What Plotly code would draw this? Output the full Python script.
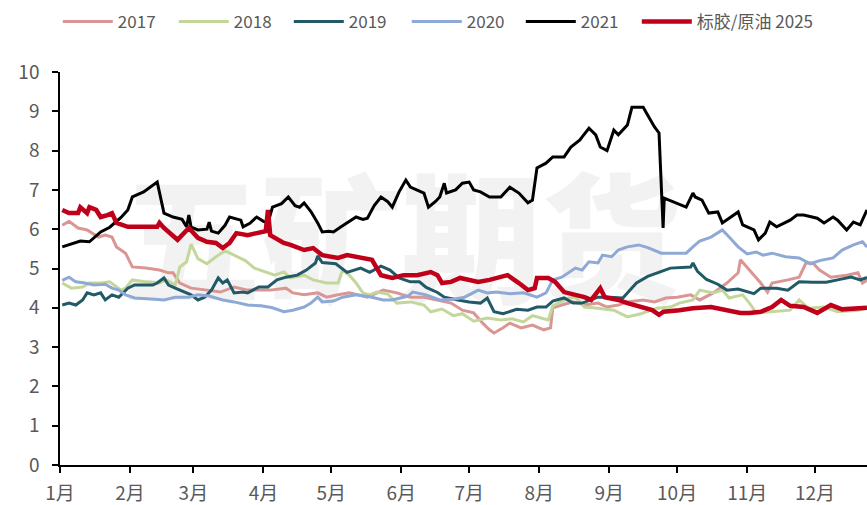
import plotly.graph_objects as go

# ---------------- data (day of year, value) ----------------
month_start_days = [0, 31, 59, 90, 120, 151, 181, 212, 243, 273, 304, 334]
month_labels = ["1月", "2月", "3月", "4月", "5月", "6月", "7月", "8月", "9月", "10月", "11月", "12月"]

d2017 = [1, 4, 8, 12, 17, 20, 23, 25, 29, 32, 38, 44, 48, 50, 53, 58, 65, 71, 77, 83, 93, 100, 103, 108, 114,
         118, 123, 128, 136, 143, 149, 155, 161, 167, 173, 178, 183, 187, 190, 192, 196, 199, 204, 209, 214, 217,
         218, 222, 227, 232, 238, 242, 247, 251, 258, 263, 268, 273, 279, 283, 289, 295, 300, 301, 303, 305, 310,
         313, 315, 322, 327, 330, 333, 336, 341, 348, 353, 355, 357]
v2017 = [6.10, 6.20, 6.03, 5.98, 5.80, 5.85, 5.80, 5.55, 5.39, 5.04, 5.01, 4.96, 4.89, 4.89, 4.63, 4.50, 4.45,
         4.40, 4.53, 4.45, 4.45, 4.50, 4.38, 4.33, 4.38, 4.27, 4.33, 4.38, 4.27, 4.45, 4.38, 4.27, 4.27, 4.20,
         4.12, 3.94, 3.87, 3.61, 3.44, 3.36, 3.49, 3.61, 3.49, 3.56, 3.44, 3.49, 4.00, 4.07, 4.15, 4.07, 4.12,
         4.02, 4.07, 4.15, 4.20, 4.15, 4.25, 4.27, 4.33, 4.20, 4.38, 4.63, 4.89, 5.22, 5.09, 4.96, 4.63, 4.40,
         4.63, 4.71, 4.78, 5.14, 5.14, 4.96, 4.78, 4.83, 4.89, 4.63, 4.70]

d2018 = [1, 5, 10, 13, 18, 22, 27, 29, 32, 38, 44, 47, 51, 53, 56, 58, 61, 65, 69, 73, 77, 82, 86, 91, 95, 99,
         102, 108, 112, 118, 123, 125, 128, 131, 134, 137, 140, 145, 149, 155, 161, 164, 169, 174, 178, 183, 189,
         195, 200, 205, 209, 214, 216, 218, 225, 228, 232, 238, 245, 251, 257, 264, 270, 274, 280, 283, 289, 293,
         296, 302, 305, 308, 314, 323, 327, 331, 338, 344, 353, 357]
v2018 = [4.63, 4.50, 4.53, 4.63, 4.63, 4.66, 4.45, 4.50, 4.71, 4.66, 4.63, 4.71, 4.58, 5.04, 5.17, 5.62, 5.25,
         5.12, 5.30, 5.45, 5.34, 5.20, 5.01, 4.91, 4.83, 4.91, 4.76, 4.83, 4.71, 4.63, 4.63, 4.96, 4.83, 4.63,
         4.38, 4.33, 4.40, 4.35, 4.12, 4.15, 4.07, 3.90, 3.97, 3.80, 3.85, 3.66, 3.74, 3.69, 3.72, 3.64, 3.80,
         3.72, 3.69, 4.05, 4.25, 4.27, 4.02, 3.99, 3.94, 3.77, 3.85, 3.99, 4.02, 4.12, 4.20, 4.45, 4.38, 4.45,
         4.25, 4.33, 4.12, 3.87, 3.90, 3.94, 4.20, 3.99, 4.02, 3.90, 3.94, 3.99]

d2019 = [1, 4, 7, 10, 12, 15, 18, 20, 23, 26, 30, 33, 41, 43, 46, 48, 51, 55, 58, 61, 64, 67, 70, 72, 74, 77,
         81, 83, 88, 92, 96, 100, 105, 109, 113, 114, 116, 122, 124, 127, 133, 137, 142, 146, 150, 155, 159, 162,
         167, 170, 176, 181, 186, 189, 192, 196, 202, 207, 211, 215, 218, 223, 227, 231, 238, 243, 249, 252, 255,
         260, 265, 270, 279, 280, 282, 286, 291, 295, 300, 307, 310, 317, 322, 327, 333, 339, 344, 350, 354, 357]
v2019 = [4.07, 4.12, 4.07, 4.20, 4.38, 4.33, 4.38, 4.20, 4.33, 4.27, 4.50, 4.58, 4.58, 4.63, 4.76, 4.58, 4.50,
         4.40, 4.33, 4.20, 4.27, 4.45, 4.76, 4.63, 4.71, 4.38, 4.40, 4.38, 4.53, 4.53, 4.71, 4.78, 4.83, 4.96,
         5.14, 5.32, 5.15, 5.12, 5.04, 4.90, 5.01, 4.90, 5.06, 4.96, 4.76, 4.66, 4.66, 4.52, 4.39, 4.27, 4.20,
         4.15, 4.12, 4.25, 3.90, 3.85, 3.96, 3.94, 4.02, 4.02, 4.17, 4.25, 4.12, 4.12, 4.27, 4.27, 4.25, 4.45,
         4.63, 4.80, 4.91, 5.01, 5.04, 5.14, 4.93, 4.72, 4.60, 4.45, 4.48, 4.36, 4.50, 4.50, 4.45, 4.66, 4.65,
         4.65, 4.71, 4.78, 4.71, 4.77]

d2020 = [1, 4, 7, 11, 15, 20, 23, 26, 29, 33, 42, 46, 51, 57, 61, 66, 72, 77, 83, 89, 94, 99, 103, 108, 111, 114,
         116, 121, 125, 131, 137, 143, 147, 154, 156, 162, 168, 174, 179, 185, 189, 193, 199, 205, 211, 215, 218,
         222, 228, 231, 234, 238, 240, 244, 247, 251, 256, 260, 266, 277, 280, 283, 288, 291, 293, 296, 300, 304,
         308, 311, 315, 321, 327, 332, 336, 342, 346, 351, 355, 357]
v2020 = [4.70, 4.78, 4.66, 4.63, 4.58, 4.60, 4.50, 4.45, 4.33, 4.25, 4.22, 4.20, 4.27, 4.27, 4.33, 4.30, 4.20,
         4.15, 4.07, 4.05, 4.00, 3.90, 3.94, 4.02, 4.12, 4.27, 4.15, 4.17, 4.27, 4.33, 4.28, 4.20, 4.20, 4.30,
         4.40, 4.33, 4.20, 4.22, 4.27, 4.45, 4.38, 4.40, 4.36, 4.38, 4.27, 4.38, 4.71, 4.78, 5.01, 4.96, 5.17,
         5.14, 5.34, 5.30, 5.47, 5.55, 5.60, 5.53, 5.39, 5.39, 5.55, 5.70, 5.80, 5.90, 5.98, 5.80, 5.55, 5.37,
         5.42, 5.34, 5.39, 5.30, 5.27, 5.12, 5.20, 5.27, 5.47, 5.60, 5.68, 5.55]

d2021 = [1, 5, 9, 13, 18, 22, 27, 30, 32, 37, 43, 46, 50, 54, 56, 57, 58, 61, 65, 66, 67, 70, 73, 75, 78, 80, 81,
         84, 87, 90, 92, 94, 98, 101, 104, 106, 108, 111, 114, 116, 119, 121, 124, 127, 131, 134, 136, 139, 142,
         145, 147, 150, 153, 155, 158, 161, 163, 166, 168, 170, 171, 175, 178, 181, 183, 186, 190, 195, 199, 203,
         207, 209, 211, 215, 218, 223, 226, 230, 231, 234, 237, 239, 242, 245, 247, 251, 253, 258, 260, 263, 265,
         266.8, 267.3, 277, 280, 281, 284, 287, 291, 293, 296, 300, 302, 307, 309, 312, 314, 317, 323, 326, 329,
         335, 338, 342, 344, 348, 351, 354, 357]
v2021 = [5.55, 5.62, 5.70, 5.68, 5.93, 6.05, 6.30, 6.49, 6.82, 6.95, 7.20, 6.41, 6.31, 6.25, 6.06, 6.36, 6.05,
         5.98, 6.00, 6.18, 5.95, 5.90, 6.10, 6.31, 6.25, 6.23, 6.06, 6.15, 6.31, 6.20, 6.16, 6.56, 6.65, 6.82,
         6.60, 6.56, 6.67, 6.45, 6.16, 5.93, 5.95, 5.93, 6.05, 6.16, 6.31, 6.25, 6.28, 6.60, 6.82, 6.70, 6.56,
         6.95, 7.25, 7.07, 7.00, 6.92, 6.56, 6.70, 6.82, 7.17, 6.92, 7.00, 7.17, 7.20, 7.00, 6.95, 6.82, 6.82,
         7.07, 6.92, 6.67, 6.74, 7.56, 7.68, 7.84, 7.84, 8.09, 8.27, 8.35, 8.57, 8.40, 8.09, 8.00, 8.52, 8.40,
         8.65, 9.10, 9.10, 8.90, 8.60, 8.45, 6.03, 6.79, 6.56, 6.92, 6.82, 6.74, 6.41, 6.44, 6.16, 6.28, 6.44,
         6.11, 5.98, 5.73, 5.90, 6.18, 6.06, 6.23, 6.36, 6.36, 6.28, 6.16, 6.31, 6.23, 5.98, 6.18, 6.11, 6.49]

d2025 = [1, 4, 8, 9, 12, 13, 16, 18, 21, 23, 25, 30, 35, 43, 44, 46, 52, 57, 61, 65, 69, 72, 75, 78, 83, 88, 91,
         92, 93, 99, 102, 108, 112, 116, 123, 127, 133, 138, 142, 147, 152, 158, 164, 167, 169, 173, 177, 185,
         190, 194, 198, 203, 207, 210, 211, 216, 219, 223, 228, 232, 235, 239, 241, 247, 251, 258, 262, 265, 267,
         274, 280, 288, 295, 301, 305, 310, 315, 319, 323, 329, 335, 341, 346, 353, 357]
v2025 = [6.49, 6.41, 6.41, 6.56, 6.41, 6.56, 6.49, 6.31, 6.36, 6.41, 6.16, 6.06, 6.06, 6.06, 6.16, 6.03, 5.73,
         6.03, 5.78, 5.68, 5.65, 5.52, 5.65, 5.90, 5.85, 5.90, 5.95, 6.49, 5.85, 5.65, 5.60, 5.47, 5.52, 5.34,
         5.27, 5.34, 5.27, 5.22, 4.83, 4.76, 4.83, 4.83, 4.91, 4.83, 4.63, 4.66, 4.76, 4.66, 4.71, 4.78, 4.83,
         4.63, 4.45, 4.50, 4.76, 4.76, 4.66, 4.40, 4.33, 4.27, 4.20, 4.50, 4.27, 4.20, 4.12, 3.99, 3.94, 3.82,
         3.90, 3.94, 3.99, 4.02, 3.94, 3.87, 3.87, 3.90, 4.02, 4.20, 4.05, 4.02, 3.87, 4.07, 3.96, 3.99, 4.00]

series = [
    ("2017", d2017, v2017, "#DA9694", 3),
    ("2018", d2018, v2018, "#C4D79B", 3),
    ("2019", d2019, v2019, "#215967", 3),
    ("2020", d2020, v2020, "#8EA9D6", 3),
    ("2021", d2021, v2021, "#000000", 3),
    ("标胶/原油 2025", d2025, v2025, "#C0001A", 4.5),
]
legend_x = [0.0667, 0.2005, 0.3331, 0.4692, 0.6007, 0.7345]   # legend entry anchor (container fraction)

x_range = [0, 357]
y_range = [0, 10]

fig = go.Figure()

# watermark (drawn first so the lines sit above it)
fig.add_trace(go.Scatter(
    x=[151], y=[5.3], mode="text", text=["五矿期货"],
    textfont=dict(size=140, color="#F2F2F2", family="Noto Sans CJK SC", weight=900),
    hoverinfo="skip", showlegend=False))

font_family = "Liberation Sans Narrow, Noto Sans CJK SC, sans-serif"
legends = {}
for i, (name, d, v, color, w) in enumerate(series):
    key = "legend" if i == 0 else f"legend{i + 1}"
    fig.add_trace(go.Scatter(x=d, y=v, mode="lines", name=name, legend=key,
                             line=dict(color=color, width=w)))
    legends[key] = dict(orientation="h", xref="container", yref="container",
                        x=legend_x[i], xanchor="left", y=0.9564, yanchor="middle",
                        bgcolor="rgba(0,0,0,0)", borderwidth=0,
                        font=dict(family=font_family, size=17, color="#595959"),
                        itemwidth=50)

tick_font = dict(family=font_family, size=19, color="#595959")

fig.update_layout(
    width=867, height=505,
    margin=dict(l=60, r=0, t=72, b=40, autoexpand=False),
    paper_bgcolor="white", plot_bgcolor="white",
    showlegend=True,
    **legends,
)
fig.update_xaxes(range=x_range, tickmode="array", tickvals=month_start_days, ticktext=month_labels,
                 showgrid=False, zeroline=False, showline=True, linecolor="black", linewidth=1.5,
                 ticks="outside", ticklen=6, tickcolor="black", tickwidth=1.5, tickfont=tick_font,
                 ticklabelstandoff=4, automargin=False)
fig.update_yaxes(range=y_range, dtick=1, showgrid=False, zeroline=False, showline=True, linecolor="black",
                 linewidth=1.5, ticks="outside", ticklen=6, tickcolor="black", tickwidth=1.5,
                 tickfont=tick_font, ticklabelstandoff=9, automargin=False)

# remove the page's default body margin so the figure fills the window exactly
fig.write_html("out.html", config={"displayModeBar": False},
               post_script="document.body.style.margin='0';document.documentElement.style.overflow='hidden';")
